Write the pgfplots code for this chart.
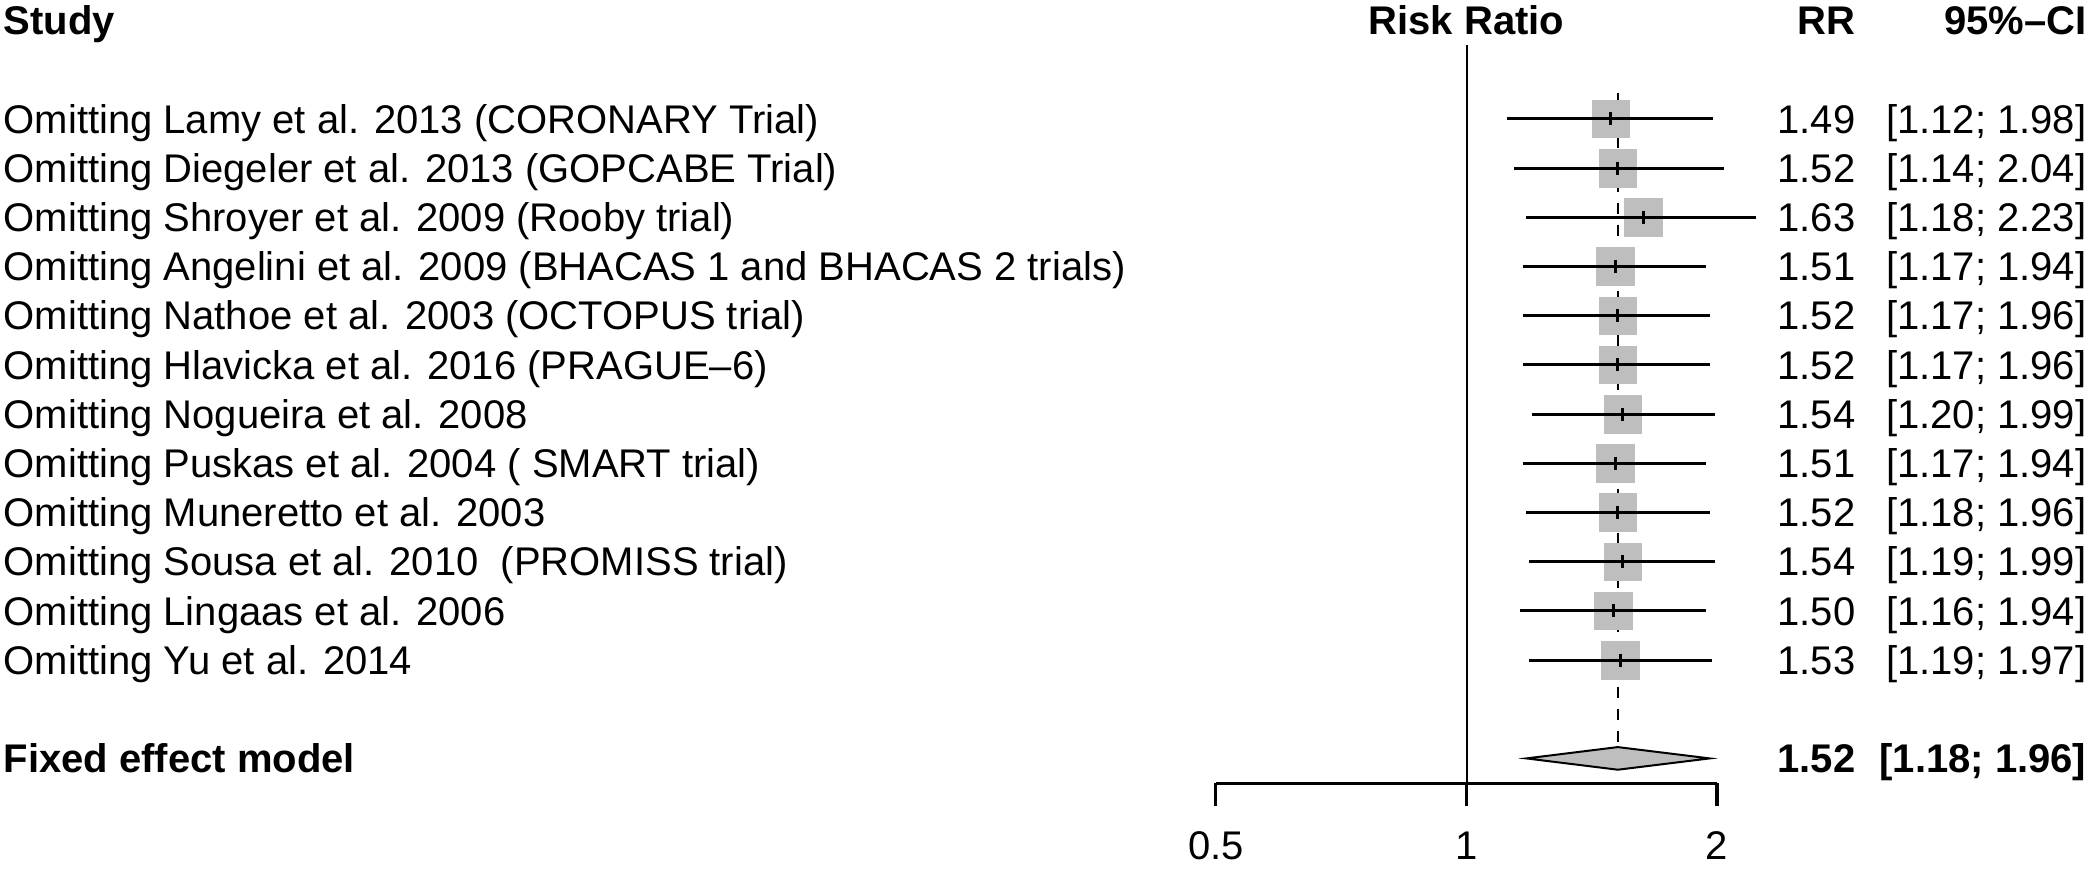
\documentclass[border=0pt]{standalone}
\usepackage{fontspec}
\setmainfont{Liberation Sans}
\usepackage{pgfplots}
\usepackage{pgfplotstable}
\pgfplotsset{compat=1.18}

\definecolor{boxgray}{RGB}{190,190,190}

% y: row position (Lamy = 15 ... Yu = 4, fixed effect = 2)
\pgfplotstableread{
y  rr   lo   hi
15 1.49 1.12 1.98
14 1.52 1.14 2.04
13 1.63 1.18 2.23
12 1.51 1.17 1.94
11 1.52 1.17 1.96
10 1.52 1.17 1.96
9  1.54 1.20 1.99
8  1.51 1.17 1.94
7  1.52 1.18 1.96
6  1.54 1.19 1.99
5  1.50 1.16 1.94
4  1.53 1.19 1.97
}\studies

\pgfplotsset{ci/.style={black, line width=3pt, no marks}}

\begin{document}
\begin{tikzpicture}[font=\fontsize{40}{48}\selectfont,
  lab/.style={anchor=base west, inner sep=0pt, yshift=-14.3pt, xshift=-1463pt},
  rrc/.style={anchor=base east, inner sep=0pt, yshift=-14.3pt, xshift=389pt},
  cic/.style={anchor=base east, inner sep=0pt, yshift=-14.3pt, xshift=620pt}]
\useasboundingbox (0,0) rectangle (2091pt,-875pt);
\begin{axis}[
  at={(1466.5pt,-414pt)}, anchor=center,
  width=501pt, height=738pt, scale only axis,
  xmode=log, xmin=0.5, xmax=2, ymin=1.5, ymax=16.5,
  axis x line*=bottom, axis y line=none,
  xtick={0.5,1,2}, xticklabels={0.5,1,2}, ytick=\empty,
  tick align=outside, major tick length=23pt,
  axis line style={line width=3pt},
  major tick style={line width=3pt, black},
  ticklabel style={font=\fontsize{40}{48}\selectfont},
  xticklabel style={yshift=-22pt},
  clip=false, clip marker paths=true,
]
% line of no effect and fixed effect estimate
\addplot[black, line width=2pt] coordinates {(1,1.5) (1,16.5)};
\addplot[black, line width=2.5pt, dash pattern=on 11pt off 11pt] coordinates {(1.52,15.53) (1.52,2.26)};

% study boxes
\addplot[boxgray, only marks, mark=square*, mark size=18.8pt,
  mark options={solid, line width=0.4pt, draw=boxgray, fill=boxgray}]
  table[x=rr, y=y] {\studies};

% confidence intervals
\addplot[ci] coordinates {(1.12,15) (1.98,15)};
\addplot[ci] coordinates {(1.14,14) (2.04,14)};
\addplot[ci] coordinates {(1.18,13) (2.23,13)};
\addplot[ci] coordinates {(1.17,12) (1.94,12)};
\addplot[ci] coordinates {(1.17,11) (1.96,11)};
\addplot[ci] coordinates {(1.17,10) (1.96,10)};
\addplot[ci] coordinates {(1.20,9) (1.99,9)};
\addplot[ci] coordinates {(1.17,8) (1.94,8)};
\addplot[ci] coordinates {(1.18,7) (1.96,7)};
\addplot[ci] coordinates {(1.19,6) (1.99,6)};
\addplot[ci] coordinates {(1.16,5) (1.94,5)};
\addplot[ci] coordinates {(1.19,4) (1.97,4)};

\addplot[black, only marks, mark=|, mark size=6.5pt, mark options={line width=3pt}]
  table[x=rr, y=y] {\studies};

% pooled estimate
\addplot[fill=boxgray, draw=black, line width=2pt]
  coordinates {(1.18,2) (1.52,2.23) (1.96,2) (1.52,1.77)} -- cycle;

% headers
\node[lab] at (axis cs:1,17) {\textbf{Study}};
\node[anchor=base, inner sep=0pt, yshift=-14.3pt] at (axis cs:1,17) {\textbf{Risk Ratio}};
\node[rrc] at (axis cs:1,17) {\textbf{RR}};
\node[cic] at (axis cs:1,17) {\textbf{95\%--CI}};

% study labels
\node[lab] at (axis cs:1,15) {Omitting Lamy et al. 2013 (CORONARY Trial)};
\node[lab] at (axis cs:1,14) {Omitting Diegeler et al. 2013 (GOPCABE Trial)};
\node[lab] at (axis cs:1,13) {Omitting Shroyer et al. 2009 (Rooby trial)};
\node[lab] at (axis cs:1,12) {Omitting Angelini et al. 2009 (BHACAS 1 and BHACAS 2 trials)};
\node[lab] at (axis cs:1,11) {Omitting Nathoe et al. 2003 (OCTOPUS trial)};
\node[lab] at (axis cs:1,10) {Omitting Hlavicka et al. 2016 (PRAGUE--6)};
\node[lab] at (axis cs:1,9)  {Omitting Nogueira et al. 2008};
\node[lab] at (axis cs:1,8)  {Omitting Puskas et al. 2004 ( SMART trial)};
\node[lab] at (axis cs:1,7)  {Omitting Muneretto et al. 2003};
\node[lab] at (axis cs:1,6)  {Omitting Sousa et al. 2010~ (PROMISS trial)};
\node[lab] at (axis cs:1,5)  {Omitting Lingaas et al. 2006};
\node[lab] at (axis cs:1,4)  {Omitting Yu et al. 2014};
\node[lab] at (axis cs:1,2)  {\textbf{Fixed effect model}};

% RR and CI columns
\node[rrc] at (axis cs:1,15) {1.49}; \node[cic] at (axis cs:1,15) {[1.12; 1.98]};
\node[rrc] at (axis cs:1,14) {1.52}; \node[cic] at (axis cs:1,14) {[1.14; 2.04]};
\node[rrc] at (axis cs:1,13) {1.63}; \node[cic] at (axis cs:1,13) {[1.18; 2.23]};
\node[rrc] at (axis cs:1,12) {1.51}; \node[cic] at (axis cs:1,12) {[1.17; 1.94]};
\node[rrc] at (axis cs:1,11) {1.52}; \node[cic] at (axis cs:1,11) {[1.17; 1.96]};
\node[rrc] at (axis cs:1,10) {1.52}; \node[cic] at (axis cs:1,10) {[1.17; 1.96]};
\node[rrc] at (axis cs:1,9)  {1.54}; \node[cic] at (axis cs:1,9)  {[1.20; 1.99]};
\node[rrc] at (axis cs:1,8)  {1.51}; \node[cic] at (axis cs:1,8)  {[1.17; 1.94]};
\node[rrc] at (axis cs:1,7)  {1.52}; \node[cic] at (axis cs:1,7)  {[1.18; 1.96]};
\node[rrc] at (axis cs:1,6)  {1.54}; \node[cic] at (axis cs:1,6)  {[1.19; 1.99]};
\node[rrc] at (axis cs:1,5)  {1.50}; \node[cic] at (axis cs:1,5)  {[1.16; 1.94]};
\node[rrc] at (axis cs:1,4)  {1.53}; \node[cic] at (axis cs:1,4)  {[1.19; 1.97]};
\node[rrc] at (axis cs:1,2)  {\textbf{1.52}}; \node[cic] at (axis cs:1,2) {\textbf{[1.18; 1.96]}};
\end{axis}
\end{tikzpicture}
\end{document}
